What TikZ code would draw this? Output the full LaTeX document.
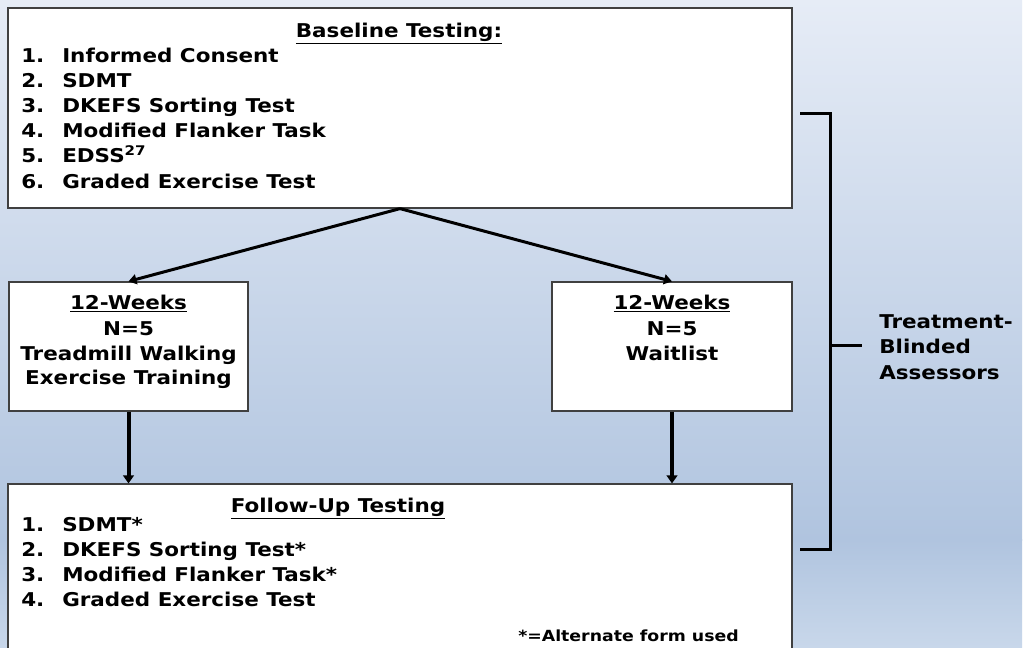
\documentclass[tikz,border=0pt]{standalone}
\usepackage{fontspec}
\setmainfont{DejaVu Sans}[FakeStretch=1.13]
\usetikzlibrary{arrows.meta,fit}
\definecolor{bgtop}{HTML}{E6ECF6}
\definecolor{bgmid}{HTML}{B0C4DF}
\definecolor{bgbot}{HTML}{C8D7EA}
\definecolor{frame}{HTML}{404040}
\tikzset{
  box/.style={draw=frame, line width=0.9pt, fill=white, inner sep=0pt},
  txt/.style={font=\bfseries\fontsize{14.25}{19}\selectfont, inner sep=0pt},
  smalltxt/.style={font=\bfseries\fontsize{11.5}{15}\selectfont, inner sep=0pt},
  arr/.style={line width=2.25pt, -{Triangle[length=6pt,width=7.5pt]}},
  varr/.style={line width=3pt, -{Triangle[length=6pt,width=8pt]}},
  brack/.style={line width=2.25pt}
}
\newcommand{\itm}[2]{\makebox[30.75pt][l]{#1}#2}
\begin{document}
\begin{tikzpicture}[x=0.75pt,y=-0.75pt]
\useasboundingbox (0,0) rectangle (1028,647);
\clip (0,0) rectangle (1028,647);
\fill[white] (0,0) rectangle (1028,647);
\shade[top color=bgtop, bottom color=bgmid] (0,0) rectangle (1022,540);
\shade[top color=bgmid, bottom color=bgbot] (0,539.5) rectangle (1022,647);

% boxes
\node[box, fit={(8,8) (792,208)}] (base) {};
\node[box, fit={(9,282) (248,411)}] (left) {};
\node[box, fit={(552,282) (792,411)}] (right) {};
\node[box, fit={(8,484) (792,680)}] (follow) {};

% baseline text
\node[txt, anchor=base] (btitle) at (399,37) {\underline{Baseline Testing:}};
\node[txt, anchor=base west] (b1) at (21,62) {\itm{1.}{Informed Consent}};
\node[txt, anchor=base west] (b2) at (21,87) {\itm{2.}{SDMT}};
\node[txt, anchor=base west] (b3) at (21,112) {\itm{3.}{DKEFS Sorting Test}};
\node[txt, anchor=base west] (b4) at (21,137) {\itm{4.}{Modified Flanker Task}};
\node[txt, anchor=base west] (b5) at (21,162) {\itm{5.}{EDSS\textsuperscript{27}}};
\node[txt, anchor=base west] (b6) at (21,188) {\itm{6.}{Graded Exercise Test}};

% left box text
\node[txt, anchor=base] (l1) at (128.5,309) {\underline{12-Weeks}};
\node[txt, anchor=base] (l2) at (128.5,335) {N=5};
\node[txt, anchor=base] (l3) at (128.5,360) {Treadmill Walking};
\node[txt, anchor=base] (l4) at (128.5,384) {Exercise Training};

% right box text
\node[txt, anchor=base] (r1) at (672,309) {\underline{12-Weeks}};
\node[txt, anchor=base] (r2) at (672,335) {N=5};
\node[txt, anchor=base] (r3) at (672,360) {Waitlist};

% follow-up text
\node[txt, anchor=base] (ftitle) at (338,512) {\underline{Follow-Up Testing}};
\node[txt, anchor=base west] (f1) at (21,531) {\itm{1.}{SDMT*}};
\node[txt, anchor=base west] (f2) at (21,556) {\itm{2.}{DKEFS Sorting Test*}};
\node[txt, anchor=base west] (f3) at (21,581) {\itm{3.}{Modified Flanker Task*}};
\node[txt, anchor=base west] (f4) at (21,606) {\itm{4.}{Graded Exercise Test}};
\node[smalltxt, anchor=base west] (note) at (518,641) {*=Alternate form used};

% arrows
\draw[arr] (base.south) -- (left.north);
\draw[arr] (base.south) -- (right.north);
\draw[varr] (left.south) -- (left.south |- follow.north);
\draw[varr] (right.south) -- (right.south |- follow.north);

% bracket
\coordinate (bt0) at (800,113);
\coordinate (bt1) at (830,113);
\coordinate (bb0) at (800,549);
\coordinate (bb1) at (830,549);
\coordinate (bm0) at (830,345);
\coordinate (bm1) at (862,345);
\draw[brack] (bt0) -- (bt1) -- (bb1) -- (bb0);
\draw[brack] (bm0) -- (bm1);
\node[txt, anchor=west, align=left] (assess) at (879,347) {Treatment-\\Blinded\\Assessors};
\end{tikzpicture}
\end{document}
